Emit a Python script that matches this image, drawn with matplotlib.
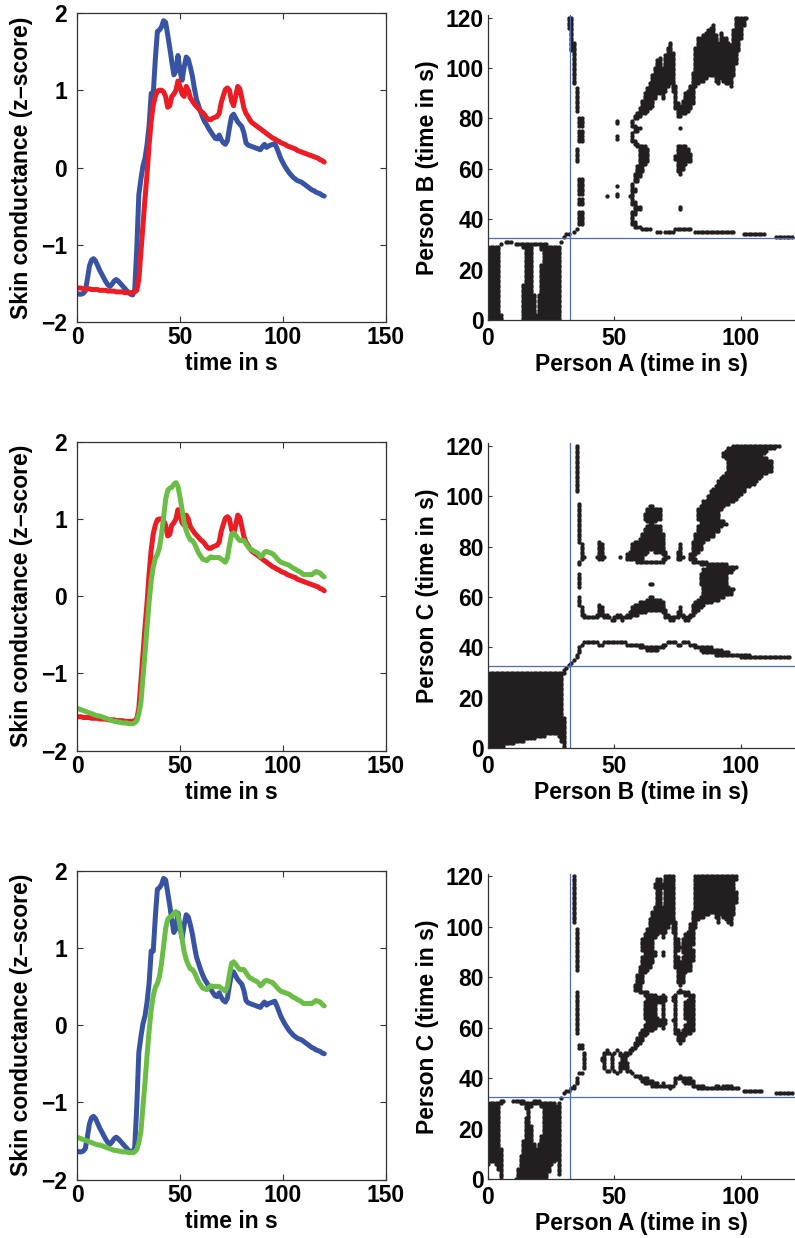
import numpy as np
import matplotlib.pyplot as plt

plt.rcParams['font.family'] = ['Liberation Sans', 'DejaVu Sans']
plt.rcParams['font.weight'] = 'bold'
plt.rcParams['font.size'] = 16.5

# skin conductance (z-score), one value per second, 0..120 s
time_s = np.arange(0, 121)

person_a = [
    -1.63, -1.64, -1.64, -1.63, -1.60, -1.45, -1.28, -1.20, -1.18, -1.21,
    -1.27, -1.33, -1.38, -1.43, -1.48, -1.52, -1.54, -1.51, -1.47, -1.45,
    -1.47, -1.50, -1.53, -1.56, -1.59, -1.62, -1.64, -1.65, -1.58, -1.05,
    -0.35, -0.15, 0.02, 0.12, 0.30, 0.55, 0.96, 0.96, 1.40, 1.76,
    1.78, 1.82, 1.90, 1.88, 1.72, 1.55, 1.37, 1.20, 1.25, 1.45,
    1.25, 1.13, 1.30, 1.43, 1.40, 1.30, 1.18, 1.02, 0.88, 0.80,
    0.72, 0.65, 0.59, 0.55, 0.50, 0.46, 0.42, 0.38, 0.37, 0.42,
    0.36, 0.32, 0.30, 0.35, 0.52, 0.66, 0.69, 0.64, 0.59, 0.56,
    0.53, 0.45, 0.32, 0.29, 0.28, 0.27, 0.26, 0.25, 0.24, 0.23,
    0.27, 0.30, 0.26, 0.28, 0.29, 0.30, 0.31, 0.25, 0.18, 0.11,
    0.06, 0.01, -0.03, -0.07, -0.10, -0.13, -0.15, -0.17, -0.18, -0.19,
    -0.21, -0.23, -0.25, -0.27, -0.29, -0.30, -0.32, -0.33, -0.34, -0.36,
    -0.37,
]

person_b = [
    -1.56, -1.56, -1.56, -1.57, -1.57, -1.57, -1.57, -1.58, -1.58, -1.58,
    -1.58, -1.59, -1.59, -1.59, -1.59, -1.60, -1.60, -1.60, -1.60, -1.61,
    -1.61, -1.61, -1.61, -1.62, -1.62, -1.62, -1.62, -1.62, -1.61, -1.59,
    -1.45, -1.10, -0.75, -0.40, -0.08, 0.30, 0.60, 0.81, 0.92, 0.99,
    1.00, 1.00, 0.98, 0.92, 0.78, 0.80, 0.92, 0.95, 1.00, 1.12,
    1.05, 0.95, 0.92, 1.05, 1.00, 0.90, 0.86, 0.82, 0.79, 0.76,
    0.73, 0.71, 0.68, 0.64, 0.62, 0.62, 0.64, 0.65, 0.66, 0.70,
    0.84, 0.93, 1.01, 1.03, 1.00, 0.86, 0.80, 0.92, 1.05, 1.02,
    0.90, 0.77, 0.70, 0.66, 0.61, 0.58, 0.56, 0.54, 0.52, 0.50,
    0.48, 0.46, 0.44, 0.42, 0.40, 0.38, 0.37, 0.35, 0.34, 0.32,
    0.31, 0.30, 0.28, 0.27, 0.26, 0.25, 0.24, 0.22, 0.21, 0.20,
    0.19, 0.18, 0.17, 0.16, 0.15, 0.14, 0.13, 0.12, 0.10, 0.09,
    0.07,
]

person_c = [
    -1.45, -1.46, -1.47, -1.48, -1.49, -1.50, -1.51, -1.52, -1.53, -1.54,
    -1.55, -1.55, -1.56, -1.57, -1.58, -1.59, -1.60, -1.61, -1.62, -1.62,
    -1.63, -1.63, -1.64, -1.64, -1.64, -1.65, -1.65, -1.65, -1.64, -1.61,
    -1.52, -1.38, -1.05, -0.74, -0.39, -0.07, 0.20, 0.38, 0.49, 0.54,
    0.63, 0.80, 1.02, 1.25, 1.37, 1.40, 1.41, 1.45, 1.47, 1.42,
    1.28, 1.12, 0.95, 0.85, 0.78, 0.73, 0.72, 0.68, 0.62, 0.56,
    0.52, 0.48, 0.47, 0.46, 0.49, 0.51, 0.50, 0.50, 0.50, 0.50,
    0.48, 0.46, 0.44, 0.50, 0.66, 0.80, 0.82, 0.79, 0.75, 0.72,
    0.72, 0.72, 0.68, 0.64, 0.61, 0.60, 0.58, 0.57, 0.55, 0.51,
    0.53, 0.57, 0.58, 0.57, 0.56, 0.55, 0.52, 0.49, 0.46, 0.44,
    0.43, 0.42, 0.41, 0.40, 0.38, 0.36, 0.35, 0.33, 0.32, 0.30,
    0.28, 0.28, 0.28, 0.28, 0.28, 0.30, 0.32, 0.31, 0.30, 0.27,
    0.25,
]

series = {"A": person_a, "B": person_b, "C": person_c}
colors = {"A": "#3953a4", "B": "#ed1c24", "C": "#6abd45"}
pairs = [("A", "B"), ("B", "C"), ("A", "C")]

onset = 32.5      # stimulus onset marked by the blue lines
radius = 0.12     # recurrence threshold (z-score units)

fig = plt.figure(figsize=(7.95, 12.38), dpi=100)
left_bottoms = [0.7399, 0.3936, 0.0471]
right_bottoms = [0.7415, 0.3956, 0.0477]

for row, (p, q) in enumerate(pairs):
    x = np.array(series[p])
    y = np.array(series[q])

    # left: the two time series
    ax = fig.add_axes([0.0969, left_bottoms[row], 0.3887, 0.2496])
    ax.plot(time_s, x, color=colors[p], lw=3.6, solid_capstyle='round')
    ax.plot(time_s, y, color=colors[q], lw=3.6, solid_capstyle='round')
    ax.set_xlim(0, 150)
    ax.set_ylim(-2, 2)
    ax.set_xticks([0, 50, 100, 150])
    ax.set_yticks([-2, -1, 0, 1, 2])
    ax.tick_params(direction='in', top=True, right=True, length=4, width=0.8, color='#333333')
    ax.tick_params(axis='x', pad=3)
    ax.tick_params(axis='y', pad=7)
    ax.set_xlabel("time in s", fontweight='bold', labelpad=2)
    ax.set_ylabel("Skin conductance (z\u2013score)", fontweight='bold', labelpad=6)
    for s in ax.spines.values():
        s.set_color('#333333')
        s.set_linewidth(0.9)

    # right: cross recurrence plot
    rp = fig.add_axes([0.6138, right_bottoms[row], 0.3867, 0.2464])
    close = np.abs(np.subtract.outer(x, y)) < radius
    ii, jj = np.nonzero(close)
    rp.plot(time_s[ii], time_s[jj], 'o', color='#231f20', ms=3.1, mew=0)
    rp.axvline(onset, color='#4d6bbd', lw=0.9)
    rp.axhline(onset, color='#4d6bbd', lw=0.9)
    rp.set_xlim(0, 121.5)
    rp.set_ylim(0, 121)
    rp.set_xticks([0, 50, 100])
    rp.set_yticks(range(0, 121, 20))
    rp.spines['top'].set_visible(False)
    rp.spines['right'].set_visible(False)
    for s in ('left', 'bottom'):
        rp.spines[s].set_color('#333333')
        rp.spines[s].set_linewidth(0.9)
    rp.tick_params(direction='in', length=3, width=0.8, color='#333333')
    rp.tick_params(axis='x', pad=5)
    rp.tick_params(axis='y', pad=3)
    rp.set_xlabel(f"Person {p} (time in s)", fontweight='bold', labelpad=2)
    rp.set_ylabel(f"Person {q} (time in s)", fontweight='bold', labelpad=5)

fig.savefig("out.png", dpi=100)
